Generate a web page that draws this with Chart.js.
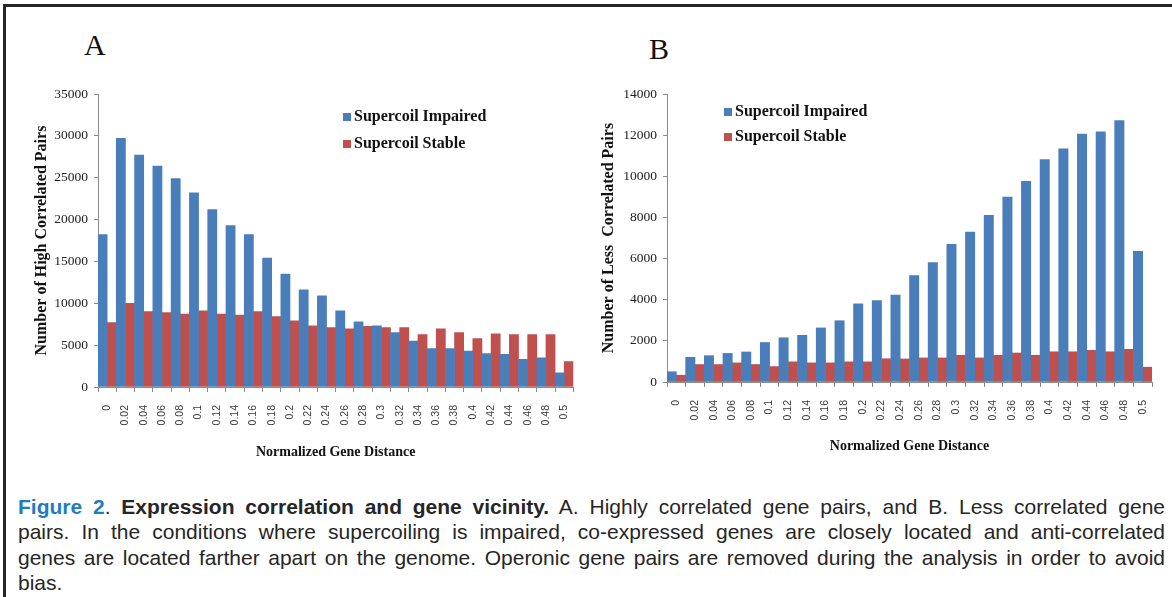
<!DOCTYPE html>
<html>
<head>
<meta charset="utf-8">
<script src="https://cdn.jsdelivr.net/npm/chart.js@4.4.0/dist/chart.umd.min.js"></script>
<style>
  body { margin: 0; background: #fff; width: 1172px; height: 597px; overflow: hidden; position: relative; }
  #frame { position: absolute; left: 3px; top: 4px; width: 1180px; height: 610px; border-left: 3px solid #262626; border-top: 3px solid #262626; }
  canvas { position: absolute; }
  #chartA { left: 10px; top: 80px; }
  #chartB { left: 580px; top: 80px; }
  .panel { position: absolute; font: 30px "Liberation Serif", serif; line-height: 30px; color: #111; }
  #caption { position: absolute; left: 18px; top: 494px; width: 1147px; font: 21px "Liberation Sans", Arial, sans-serif; line-height: 25.3px; color: #262626; }
  #caption .ln { text-align: justify; text-align-last: justify; white-space: nowrap; }
  #caption .last { text-align: left; }
  .fig { color: #1f7cc2; font-weight: bold; }
</style>
</head>
<body>
<div id="frame"></div>
<div class="panel" style="left:84px; top:30px;">A</div>
<div class="panel" style="left:649px; top:34px;">B</div>
<canvas id="chartA" width="580" height="390"></canvas>
<canvas id="chartB" width="590" height="390"></canvas>
<div id="caption">
  <div class="ln"><span class="fig">Figure 2</span>. <b>Expression correlation and gene vicinity.</b> A. Highly correlated gene pairs, and B. Less correlated gene</div>
  <div class="ln">pairs. In the conditions where supercoiling is impaired, co-expressed genes are closely located and anti-correlated</div>
  <div class="ln">genes are located farther apart on the genome. Operonic gene pairs are removed during the analysis in order to avoid</div>
  <div class="last">bias.</div>
</div>
<script>
// DATA
const categories = ['0', '0.02', '0.04', '0.06', '0.08', '0.1', '0.12', '0.14', '0.16', '0.18', '0.2', '0.22', '0.24',
  '0.26', '0.28', '0.3', '0.32', '0.34', '0.36', '0.38', '0.4', '0.42', '0.44', '0.46', '0.48', '0.5'];

const highImpaired = [18200, 29700, 27700, 26400, 24900, 23200, 21200, 19300, 18200, 15400, 13500, 11600, 10900,
  9100, 7800, 7300, 6500, 5500, 4600, 4600, 4300, 4000, 3900, 3300, 3500, 1700];
const highStable = [7700, 10000, 9000, 8900, 8700, 9100, 8700, 8600, 9000, 8400, 7900, 7300, 7100,
  6950, 7250, 7100, 7100, 6250, 6950, 6500, 5800, 6350, 6250, 6250, 6250, 3050];

const lessImpaired = [500, 1200, 1280, 1390, 1460, 1920, 2150, 2270, 2630, 2980, 3800, 3960, 4230,
  5170, 5810, 6700, 7290, 8110, 8990, 9760, 10810, 11340, 12050, 12160, 12710, 6350];
const lessStable = [330, 850, 850, 930, 850, 750, 980, 930, 930, 980, 980, 1130, 1120,
  1170, 1170, 1300, 1170, 1300, 1410, 1300, 1470, 1470, 1540, 1470, 1590, 720];

const seriesNames = ['Supercoil Impaired', 'Supercoil Stable'];
const blue = '#4a7ebb';
const red = '#c0504d';

// legend drawn inside the plot, like the excel original
const insideLegend = {
  id: 'insideLegend',
  afterDraw(chart, args, opts) {
    const ctx = chart.ctx;
    ctx.save();
    ctx.font = 'bold 16px "Liberation Serif", serif';
    ctx.textBaseline = 'middle';
    chart.data.datasets.forEach((ds, i) => {
      const y = opts.y + i * opts.gap;
      ctx.fillStyle = ds.backgroundColor;
      ctx.fillRect(opts.x, y - 4, 8, 8);
      ctx.fillStyle = '#111';
      ctx.fillText(ds.label, opts.x + 11, y);
    });
    ctx.restore();
  }
};

const makeChart = (id, impaired, stable, cfg) => {
  return new Chart(document.getElementById(id), {
    type: 'bar',
    data: {
      labels: categories,
      datasets: [{
        label: seriesNames[0],
        data: impaired,
        backgroundColor: blue,
        categoryPercentage: 1,
        barPercentage: 1
      }, {
        label: seriesNames[1],
        data: stable,
        backgroundColor: red,
        categoryPercentage: 1,
        barPercentage: 1
      }]
    },
    plugins: [insideLegend],
    options: {
      responsive: false,
      animation: false,
      devicePixelRatio: 1,
      layout: { padding: cfg.padding },
      plugins: {
        legend: { display: false },
        tooltip: { enabled: false },
        insideLegend: cfg.legend
      },
      scales: {
        x: {
          afterFit: (scale) => { scale.height = cfg.xHeight; },
          grid: { drawOnChartArea: false, tickLength: 5, color: '#8c8c8c' },
          border: { color: '#8c8c8c' },
          ticks: {
            autoSkip: false,
            minRotation: 90,
            maxRotation: 90,
            padding: 13,
            color: '#3a3a3a',
            font: { family: '"Liberation Sans", Arial, sans-serif', size: 10.5 }
          },
          title: {
            display: true,
            text: 'Normalized Gene Distance',
            color: '#111',
            font: { family: '"Liberation Serif", serif', size: 14, weight: 'bold' }
          }
        },
        y: {
          min: 0,
          max: cfg.max,
          afterFit: (scale) => { scale.width = cfg.yWidth; },
          grid: { drawOnChartArea: false, tickLength: 4, color: '#8c8c8c' },
          border: { color: '#8c8c8c' },
          ticks: {
            stepSize: cfg.step,
            padding: 6,
            color: '#222',
            font: { family: '"Liberation Serif", serif', size: 13.5 },
            callback: (value) => String(value)
          },
          title: {
            display: true,
            text: cfg.yTitle,
            color: '#111',
            font: { family: '"Liberation Serif", serif', size: 16, weight: 'bold' }
          }
        }
      }
    }
  });
};

makeChart('chartA', highImpaired, highStable, {
  padding: { left: 18, right: 9, top: 10, bottom: 5 },
  xHeight: 78,
  yWidth: 70,
  max: 35000,
  step: 5000,
  yTitle: 'Number of High Correlated Pairs',
  legend: { x: 333, y: 37, gap: 27 }
});

makeChart('chartB', lessImpaired, lessStable, {
  padding: { left: 15, right: 18, top: 9, bottom: 11 },
  xHeight: 77,
  yWidth: 72,
  max: 14000,
  step: 2000,
  yTitle: 'Number of Less  Correlated Pairs',
  legend: { x: 144, y: 32, gap: 25 }
});
</script>
</body>
</html>
